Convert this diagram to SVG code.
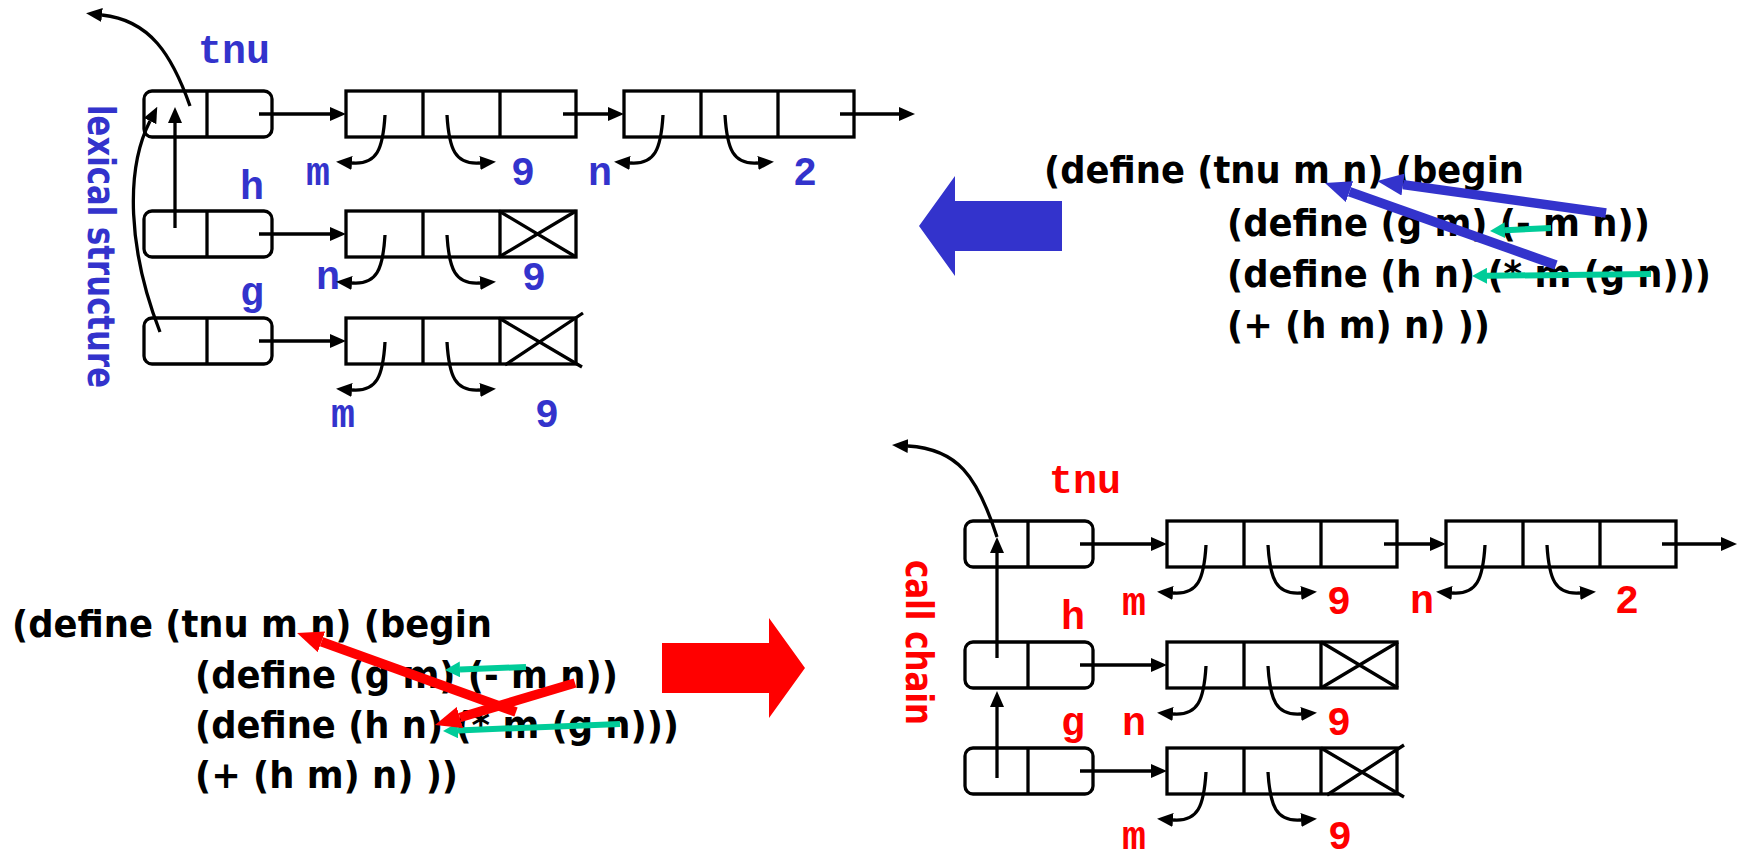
<svg xmlns="http://www.w3.org/2000/svg" xmlns:xlink="http://www.w3.org/1999/xlink" width="1738" height="858" viewBox="0 0 1738 858">
<style>
.box{fill:none;stroke:#000;stroke-width:3.3}
.ln{fill:none;stroke:#000;stroke-width:3.3}
.lbl{font-family:"Liberation Mono","Courier New",monospace;font-weight:bold;font-size:40px;text-anchor:middle}
.blue{fill:#3333cc}
.red{fill:#ff0000}
.code{font-family:"DejaVu Sans","Liberation Sans",sans-serif;font-weight:bold;font-size:38px;fill:#000}
.side{font-family:"DejaVu Sans","Liberation Sans",sans-serif;font-weight:bold;font-size:37px}
.green{fill:none;stroke:#00cc99;stroke-width:6}
.bl{fill:none;stroke:#3333cc;stroke-width:9.5}
.rd{fill:none;stroke:#ff0000;stroke-width:9.5}
</style>
<defs>
  <marker id="ah" markerUnits="userSpaceOnUse" markerWidth="16" markerHeight="14" refX="0" refY="7" orient="auto"><path d="M0,0L16,7L0,14z" fill="#000"/></marker>
  <marker id="ahg" markerUnits="userSpaceOnUse" markerWidth="15" markerHeight="16" refX="0" refY="8" orient="auto"><path d="M0,0L15,8L0,16z" fill="#00cc99"/></marker>
  <marker id="ahb" markerUnits="userSpaceOnUse" markerWidth="26" markerHeight="22" refX="0" refY="11" orient="auto"><path d="M0,0L26,11L0,22z" fill="#3333cc"/></marker>
  <marker id="ahr" markerUnits="userSpaceOnUse" markerWidth="26" markerHeight="22" refX="0" refY="11" orient="auto"><path d="M0,0L26,11L0,22z" fill="#ff0000"/></marker>
  <!-- environment frame: two-cell rounded box -->
  <g id="frame"><rect class="box" x="0" y="0" width="128" height="46" rx="8"/><path class="ln" d="M63,0V46"/></g>
  <!-- three-cell binding vector -->
  <g id="vec"><rect class="box" x="0" y="0" width="230" height="46"/><path class="ln" d="M77,0V46M154,0V46"/></g>
  <!-- crossed-out (empty) third cell -->
  <path id="nul" class="ln" d="M0,0L77,46M0,46L77,0"/>
  <!-- name / value pointers hanging from the first two cells -->
  <g id="ptr">
    <path class="ln" marker-end="url(#ah)" d="M39,24C37,58 31,74 6,72"/>
    <path class="ln" marker-end="url(#ah)" d="M101,24C103,58 109,74 134,72"/>
  </g>
</defs>

<!-- ===== lexical structure ===== -->
<g id="lex-tnu-frame"><use xlink:href="#frame" x="144" y="91"/></g>
<g id="lex-h-frame"><use xlink:href="#frame" x="144" y="211"/></g>
<g id="lex-g-frame"><use xlink:href="#frame" x="144" y="318"/></g>
<g id="lex-tnu-vec1"><use xlink:href="#vec" x="346" y="91"/></g>
<g id="lex-tnu-vec2"><use xlink:href="#vec" x="624" y="91"/></g>
<g id="lex-h-vec"><use xlink:href="#vec" x="346" y="211"/><use xlink:href="#nul" x="499" y="211"/></g>
<g id="lex-g-vec"><use xlink:href="#vec" x="346" y="318"/><path class="ln" d="M499,318L582,367M505,365L583,313"/></g>

<g id="lex-labels" class="lbl blue">
  <text x="234" y="63">tnu</text>
  <text x="252" y="199">h</text>
  <text x="252" y="305">g</text>
  <text x="318" y="185">m</text>
  <text x="523" y="185">9</text>
  <text x="600" y="185">n</text>
  <text x="805" y="185">2</text>
  <text x="328" y="289">n</text>
  <text x="534" y="290">9</text>
  <text x="343" y="427">m</text>
  <text x="547" y="427">9</text>
</g>
<text class="side blue" transform="translate(88,105) rotate(90)" textLength="283" lengthAdjust="spacingAndGlyphs">lexical structure</text>

<!-- ===== call chain ===== -->
<g id="cc-tnu-frame"><use xlink:href="#frame" x="965" y="521"/></g>
<g id="cc-h-frame"><use xlink:href="#frame" x="965" y="642"/></g>
<g id="cc-g-frame"><use xlink:href="#frame" x="965" y="748"/></g>
<g id="cc-tnu-vec1"><use xlink:href="#vec" x="1167" y="521"/></g>
<g id="cc-tnu-vec2"><use xlink:href="#vec" x="1446" y="521"/></g>
<g id="cc-h-vec"><use xlink:href="#vec" x="1167" y="642"/><use xlink:href="#nul" x="1321" y="642"/></g>
<g id="cc-g-vec"><use xlink:href="#vec" x="1167" y="748"/><path class="ln" d="M1321,748L1404,797M1327,795L1404,745"/></g>

<g id="cc-labels" class="lbl red">
  <text x="1085" y="493">tnu</text>
  <text x="1073" y="629">h</text>
  <text x="1073" y="735">g</text>
  <text x="1134" y="615">m</text>
  <text x="1339" y="614">9</text>
  <text x="1422" y="613">n</text>
  <text x="1627" y="613">2</text>
  <text x="1134" y="735">n</text>
  <text x="1339" y="735">9</text>
  <text x="1134" y="849">m</text>
  <text x="1340" y="849">9</text>
</g>
<text class="side red" transform="translate(906,560) rotate(90)" textLength="165" lengthAdjust="spacingAndGlyphs">call chain</text>

<!-- ===== source code ===== -->
<g id="code-top">
  <text class="code" x="1044" y="183" textLength="480" lengthAdjust="spacingAndGlyphs">(define (tnu m n) (begin</text>
  <text class="code" x="1227" y="236" textLength="423" lengthAdjust="spacingAndGlyphs">(define (g m) (- m n))</text>
  <text class="code" x="1227" y="287" textLength="484" lengthAdjust="spacingAndGlyphs">(define (h n) (* m (g n)))</text>
  <text class="code" x="1227" y="338" textLength="263" lengthAdjust="spacingAndGlyphs">(+ (h m) n) ))</text>
</g>
<g id="code-bottom">
  <text class="code" x="12" y="637" textLength="480" lengthAdjust="spacingAndGlyphs">(define (tnu m n) (begin</text>
  <text class="code" x="195" y="688" textLength="423" lengthAdjust="spacingAndGlyphs">(define (g m) (- m n))</text>
  <text class="code" x="195" y="738" textLength="484" lengthAdjust="spacingAndGlyphs">(define (h n) (* m (g n)))</text>
  <text class="code" x="195" y="788" textLength="263" lengthAdjust="spacingAndGlyphs">(+ (h m) n) ))</text>
</g>

<!-- big direction arrows -->
<g id="arrow-to-lexical"><polygon class="blue" points="1062,201 955,201 955,176 919,226 955,276 955,251 1062,251"/></g>
<g id="arrow-to-callchain"><polygon class="red" points="662,643 769,643 769,618 805,668 769,718 769,693 662,693"/></g>

<!-- ===== connectors ===== -->
<g id="connectors">
  <!-- lexical: frame to bindings -->
  <path class="ln" marker-end="url(#ah)" d="M259,114H330"/>
  <path class="ln" marker-end="url(#ah)" d="M259,234H330"/>
  <path class="ln" marker-end="url(#ah)" d="M259,341H330"/>
  <path class="ln" marker-end="url(#ah)" d="M563,114H608"/>
  <path class="ln" marker-end="url(#ah)" d="M840,114H899"/>
  <use xlink:href="#ptr" x="346" y="91"/>
  <use xlink:href="#ptr" x="624" y="91"/>
  <use xlink:href="#ptr" x="346" y="211"/>
  <use xlink:href="#ptr" x="346" y="318"/>
  <path class="ln" marker-end="url(#ah)" d="M190,106C172,55 150,20 102,15"/>
  <path class="ln" marker-end="url(#ah)" d="M175,228V123"/>
  <path class="ln" marker-end="url(#ah)" d="M160,332C128,250 125,170 150,121"/>

  <!-- call chain: frame to bindings -->
  <path class="ln" marker-end="url(#ah)" d="M1080,544H1151"/>
  <path class="ln" marker-end="url(#ah)" d="M1080,665H1151"/>
  <path class="ln" marker-end="url(#ah)" d="M1080,771H1151"/>
  <path class="ln" marker-end="url(#ah)" d="M1384,544H1430"/>
  <path class="ln" marker-end="url(#ah)" d="M1662,544H1721"/>
  <use xlink:href="#ptr" x="1167" y="521"/>
  <use xlink:href="#ptr" x="1446" y="521"/>
  <use xlink:href="#ptr" x="1167" y="642"/>
  <use xlink:href="#ptr" x="1167" y="748"/>
  <path class="ln" marker-end="url(#ah)" d="M997,537C977,475 957,449 908,446"/>
  <path class="ln" marker-end="url(#ah)" d="M997,658V553"/>
  <path class="ln" marker-end="url(#ah)" d="M997,778V707"/>

  <!-- code references, top block -->
  <path class="green" marker-end="url(#ahg)" d="M1551,228L1505,230.3"/>
  <path class="green" marker-end="url(#ahg)" d="M1651,274L1487,275.8"/>
  <path class="bl" marker-end="url(#ahb)" d="M1606,213L1403,184.6"/>
  <path class="bl" marker-end="url(#ahb)" d="M1556,265L1349.5,191.7"/>

  <!-- code references, bottom block -->
  <path class="green" marker-end="url(#ahg)" d="M526,667L460,669.4"/>
  <path class="green" marker-end="url(#ahg)" d="M620,724L458,730.4"/>
  <path class="rd" marker-end="url(#ahr)" d="M516,712L321.5,641.8"/>
  <path class="rd" marker-end="url(#ahr)" d="M575,683L459.9,717.5"/>
</g>
</svg>
